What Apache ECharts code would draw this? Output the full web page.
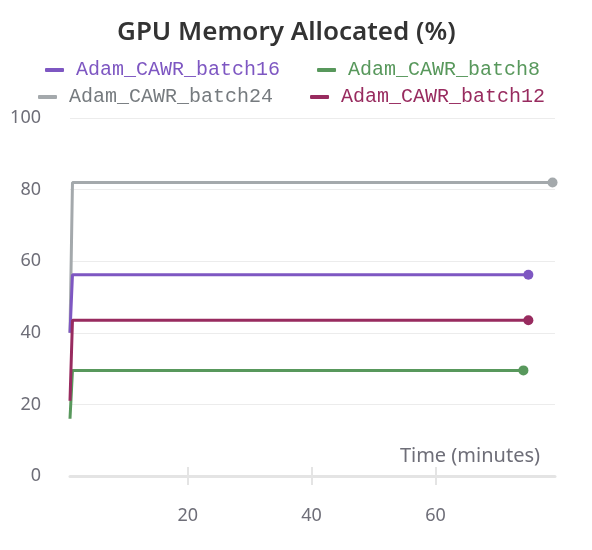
<!DOCTYPE html>
<html><head><meta charset="utf-8">
<script src="https://cdn.jsdelivr.net/npm/echarts@6/dist/echarts.min.js"></script>
<style>html,body{margin:0;padding:0;background:#fff}#c{width:592px;height:550px}</style>
</head><body><div id="c"></div>
<script>
const seriesNames = ['Adam_CAWR_batch24','Adam_CAWR_batch16','Adam_CAWR_batch8','Adam_CAWR_batch12'];
const seriesColors = ['#a4a9ac','#7e57c2','#58985c','#982b5f'];
const legendTextColors = ['#767b7f','#7e57c2','#58985c','#982b5f'];
const seriesTimes = [
  [1.0, 1.4, 78.9],
  [1.0, 1.4, 75.0],
  [1.0, 1.4, 74.2],
  [1.0, 1.4, 75.0]
];
const seriesValues = [
  [40, 82, 82],
  [40, 56.2, 56.2],
  [16, 29.5, 29.5],
  [21, 43.5, 43.5]
];
const xTicks = [20, 40, 60];
const legendRow1 = ['Adam_CAWR_batch16','Adam_CAWR_batch8'];
const legendRow2 = ['Adam_CAWR_batch24','Adam_CAWR_batch12'];

const colorOf = n => legendTextColors[seriesNames.indexOf(n)];
const legendData = row => row.map(n => ({name:n, textStyle:{color:colorOf(n)}}));
const legendBase = {
  orient:'horizontal', itemWidth:19, itemHeight:4, icon:'roundRect', itemGap:37, padding:0,
  textStyle:{fontFamily:'Liberation Mono', fontSize:20, padding:[0,0,0,7]}
};
const axisFont = {fontFamily:'Noto Sans', fontSize:18, color:'#6e6e78'};
const chart = echarts.init(document.getElementById('c'));
chart.setOption({
  animation:false,
  color: seriesColors,
  title:{text:'GPU Memory Allocated (%)', left:112, top:15,
    textStyle:{fontFamily:'Noto Sans', fontWeight:600, fontSize:26, color:'#333'}},
  legend:[
    Object.assign({}, legendBase, {data:legendData(legendRow1), left:45, top:60}),
    Object.assign({}, legendBase, {data:legendData(legendRow2), left:38, top:87})
  ],
  grid:{left:70, right:37, top:118, bottom:74},
  xAxis:[{
    type:'value', min:1.0, max:79.3,
    axisLine:{show:true, lineStyle:{color:'#e4e4e4', width:3}},
    axisTick:{show:true, inside:true, length:9, customValues:xTicks, lineStyle:{color:'#e4e4e4', width:2}},
    axisLabel:Object.assign({customValues:xTicks, margin:31}, axisFont),
    splitLine:{show:false}
  },{
    type:'value', min:1.0, max:79.3, position:'bottom',
    axisLine:{show:false},
    axisTick:{show:true, inside:false, length:9, customValues:xTicks, lineStyle:{color:'#e4e4e4', width:2}},
    axisLabel:{show:false},
    splitLine:{show:false}
  }],
  yAxis:{type:'value', min:0, max:100, interval:20,
    axisLine:{show:false}, axisTick:{show:false},
    axisLabel:Object.assign({margin:29}, axisFont),
    splitLine:{lineStyle:{color:'#ececec', width:1}}
  },
  graphic:[{type:'text', right:52, top:446,
    style:{text:'Time (minutes)', fontFamily:'Noto Sans', fontSize:20, fill:'#6e6e78'}}],
  series: seriesNames.map((n,i)=>({
    name:n, type:'line', xAxisIndex:0, symbol:'none', showAllSymbol:true,
    lineStyle:{width:3, color:seriesColors[i]},
    itemStyle:{color:seriesColors[i]},
    data: seriesTimes[i].map((t,j)=> j===seriesTimes[i].length-1
      ? {value:[t, seriesValues[i][j]], symbol:'circle', symbolSize:10}
      : [t, seriesValues[i][j]])
  }))
});
</script></body></html>
